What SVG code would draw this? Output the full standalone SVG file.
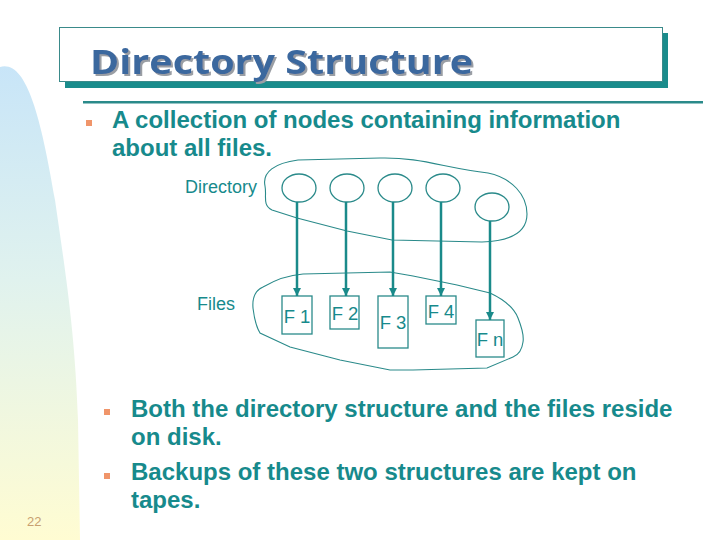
<svg xmlns="http://www.w3.org/2000/svg" width="720" height="540" viewBox="0 0 720 540">
<defs>
  <linearGradient id="bg" x1="0" y1="0" x2="0" y2="1">
    <stop offset="0" stop-color="#c8e5f8"/>
    <stop offset="0.45" stop-color="#e0f2ee"/>
    <stop offset="1" stop-color="#fffcd2"/>
  </linearGradient>
  <filter id="tshadow" x="-5%" y="-20%" width="110%" height="150%">
    <feDropShadow dx="2" dy="2" stdDeviation="0.4" flood-color="#9a9ea4" flood-opacity="1"/>
  </filter>
  <marker id="arr" viewBox="0 0 10 10" refX="10" refY="5" markerWidth="3.4" markerHeight="3.4" orient="auto" markerUnits="strokeWidth">
    <path d="M0,0 L10,5 L0,10 Z" fill="#1a8a8a"/>
  </marker>
  <style>
    .body{font-family:"Liberation Sans",Arial,sans-serif;font-weight:bold;font-size:24px;fill:#178a8c}
    .lbl{font-family:"Liberation Sans",Arial,sans-serif;font-size:18px;fill:#178a8c}
    .ftx{font-family:"Liberation Sans",Arial,sans-serif;font-size:18.5px;fill:#178a8c}
    .bul{fill:#f0956a}
    .blob{fill:none;stroke:#2a8a8a;stroke-width:1.1}
    .circ{fill:none;stroke:#2a8a8a;stroke-width:1.3}
    .box{fill:none;stroke:#2a8a8a;stroke-width:1.3}
    .conn{stroke:#1a8a8a;stroke-width:2.5;fill:none}
    .ttl{font-family:"Open Sans","DejaVu Sans",sans-serif;font-weight:bold;font-size:34px}
  </style>
</defs>
<rect width="720" height="540" fill="#ffffff"/>
<path d="M0,67 C25,60 40,110 55,200 C65,270 75,330 78,420 L80,540 L0,540 Z" fill="url(#bg)"/>

<g id="title">
  <rect x="65" y="33" width="603" height="55" fill="#1a8c8c"/>
  <rect x="59.5" y="27.5" width="603" height="54" fill="#ffffff" stroke="#3a8a8a" stroke-width="1"/>
  <text class="ttl" x="90" y="74" fill="#3b679e" filter="url(#tshadow)" textLength="383" lengthAdjust="spacingAndGlyphs">Directory Structure</text>
  <rect x="83" y="101" width="620" height="2.5" fill="#2a8a8a"/>
</g>

<g id="bullet1">
  <rect class="bul" x="86" y="120" width="6" height="6"/>
  <text class="body" x="112" y="128">A collection of nodes containing information</text>
  <text class="body" x="112" y="156">about all files.</text>
</g>

<g id="labels">
  <text class="lbl" x="185" y="193">Directory</text>
  <text class="lbl" x="197" y="310">Files</text>
</g>

<g id="directory">
  <path class="blob" d="M265,186 C262,172 275,163 298,160 L380,158 C420,157 445,168 488,173 C512,178 527,195 527,214 C527,232 512,241 482,242 L392,240 L347,231 L297,218 L272,210 C262,205 267,196 265,186 Z"/>
  <ellipse class="circ" cx="299" cy="188" rx="17" ry="14"/>
  <ellipse class="circ" cx="347" cy="188" rx="17" ry="14"/>
  <ellipse class="circ" cx="395" cy="188" rx="17" ry="14"/>
  <ellipse class="circ" cx="443" cy="188" rx="17" ry="14"/>
  <ellipse class="circ" cx="492" cy="207" rx="17" ry="14"/>
</g>

<g id="files">
  <path class="blob" d="M253,308 C252,296 256,290 263,287 C275,280 290,275 303,274 L390,272 L413,276 L457,285 L490,293 C505,300 514,308 518,318 C522,328 524,336 523,342 C522,350 518,355 513,357 L487,368 L413,370 L390,370 L340,360 L290,347 L260,333 C255,325 254,316 253,308 Z"/>
  <g id="f1"><rect class="box" x="282" y="296" width="30" height="38"/><text class="ftx" x="297" y="323" text-anchor="middle">F 1</text></g>
  <g id="f2"><rect class="box" x="330" y="296" width="29" height="33"/><text class="ftx" x="345" y="320" text-anchor="middle">F 2</text></g>
  <g id="f3"><rect class="box" x="378" y="296" width="30" height="52"/><text class="ftx" x="393" y="329" text-anchor="middle">F 3</text></g>
  <g id="f4"><rect class="box" x="426" y="296" width="30" height="28"/><text class="ftx" x="441" y="318" text-anchor="middle">F 4</text></g>
  <g id="fn"><rect class="box" x="476" y="320" width="28" height="37"/><text class="ftx" x="490" y="346" text-anchor="middle">F n</text></g>
</g>

<g id="connectors">
  <line class="conn" x1="297" y1="202" x2="297" y2="296" marker-end="url(#arr)"/>
  <line class="conn" x1="346" y1="202" x2="346" y2="296" marker-end="url(#arr)"/>
  <line class="conn" x1="393" y1="202" x2="393" y2="296" marker-end="url(#arr)"/>
  <line class="conn" x1="441" y1="202" x2="441" y2="296" marker-end="url(#arr)"/>
  <line class="conn" x1="490" y1="221" x2="490" y2="320" marker-end="url(#arr)"/>
</g>

<g id="bullets2">
  <rect class="bul" x="104" y="409" width="6" height="6"/>
  <text class="body" x="131" y="417">Both the directory structure and the files reside</text>
  <text class="body" x="131" y="445">on disk.</text>
  <rect class="bul" x="104" y="473" width="6" height="6"/>
  <text class="body" x="131" y="480">Backups of these two structures are kept on</text>
  <text class="body" x="131" y="508">tapes.</text>
</g>

<text x="27" y="526" font-family="'Liberation Sans',Arial,sans-serif" font-size="13" fill="#c8a070">22</text>
</svg>
